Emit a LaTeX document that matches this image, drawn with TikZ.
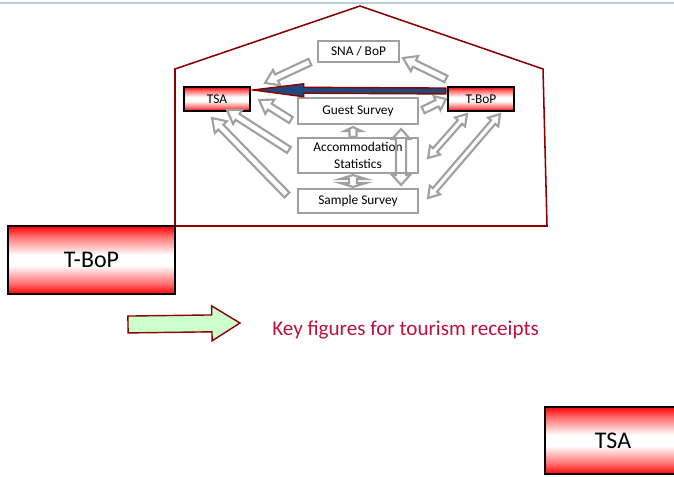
\documentclass[tikz,border=0pt]{standalone}
\usepackage{fontspec}
\setmainfont{Carlito}
\usetikzlibrary{calc}
\definecolor{housered}{RGB}{139,0,0}
\definecolor{boxgray}{RGB}{160,160,160}
\definecolor{arrowblue}{RGB}{31,73,125}
\definecolor{keygreen}{RGB}{204,255,204}
\definecolor{keyred}{RGB}{192,16,64}
\definecolor{lineblue}{RGB}{184,204,228}
\pgfdeclareverticalshading{redband}{100bp}{color(0bp)=(red); color(25bp)=(red); color(33bp)=(red!55); color(46bp)=(white); color(54bp)=(white); color(67bp)=(red!55); color(75bp)=(red); color(100bp)=(red)}
\begin{document}
\begin{tikzpicture}
  [x=0.025cm,y=-0.025cm,
   Box/.style={draw=boxgray,line width=1.5pt,fill=white,inner sep=0pt,align=center,
     font=\fontsize{9.5}{11.9}\selectfont},
   Red/.style={draw=black,line width=1.5pt,shading=redband,inner sep=0pt},
   Hollow/.style={draw=boxgray,line width=1.5pt,fill=white},
   Single/.style n args={3}{to path={
     let \p1=(\tikztostart), \p2=(\tikztotarget), \n1={atan2(\y2-\y1,\x2-\x1)} in
     ($(\p1)+(\n1+90:#1)$) -- ($(\p2)+(\n1+180:#3)+(\n1+90:#1)$)
     -- ($(\p2)+(\n1+180:#3)+(\n1+90:#2)$) -- (\p2)
     -- ($(\p2)+(\n1+180:#3)+(\n1-90:#2)$) -- ($(\p2)+(\n1+180:#3)+(\n1-90:#1)$)
     -- ($(\p1)+(\n1-90:#1)$) -- cycle}},
   Double/.style n args={3}{to path={
     let \p1=(\tikztostart), \p2=(\tikztotarget), \n1={atan2(\y2-\y1,\x2-\x1)} in
     (\p1) -- ($(\p1)+(\n1:#3)+(\n1+90:#2)$) -- ($(\p1)+(\n1:#3)+(\n1+90:#1)$)
     -- ($(\p2)+(\n1+180:#3)+(\n1+90:#1)$) -- ($(\p2)+(\n1+180:#3)+(\n1+90:#2)$)
     -- (\p2) -- ($(\p2)+(\n1+180:#3)+(\n1-90:#2)$) -- ($(\p2)+(\n1+180:#3)+(\n1-90:#1)$)
     -- ($(\p1)+(\n1:#3)+(\n1-90:#1)$) -- ($(\p1)+(\n1:#3)+(\n1-90:#2)$) -- cycle}}]
  \useasboundingbox (0,0) rectangle (674,477);
  \clip (0,0) rectangle (674,477);
  \draw[lineblue,line width=1.8pt] (0,3) -- (674,3);
  \draw[housered,line width=1.1pt] (175,226) -- (175,69) -- (360,6) -- (543,69) -- (547,226) -- cycle;
  \node[Box,minimum width=2.025cm,minimum height=0.525cm] (sna) at (358.5,51.5) {SNA / BoP};
  \node[Box,minimum width=3cm,minimum height=0.65cm] (gs) at (358,111) {Guest Survey};
  \node[Box,minimum width=3cm,minimum height=0.875cm] (acc) at (358,155.5) {Accommodation\\Statistics};
  \node[Box,minimum width=3cm,minimum height=0.6cm] (ss) at (358,201) {Sample Survey};
  \node[Red,minimum width=1.65cm,minimum height=0.6cm,font=\fontsize{9.5}{11.9}\selectfont] (tsas) at (217,99) {TSA};
  \node[Red,minimum width=1.65cm,minimum height=0.6cm,font=\fontsize{9.5}{11.9}\selectfont] (tbops) at (481,99) {T-BoP};
  \node[Red,minimum width=4.175cm,minimum height=1.7cm,font=\fontsize{17}{20}\selectfont] (tbop) at (91.5,260) {T-BoP};
  \node[Red,minimum width=3.4cm,minimum height=1.675cm,font=\fontsize{17}{20}\selectfont] (tsa) at (613,440.5) {TSA};
  \draw[Hollow,Single={2.5pt}{6pt}{9pt}] ($(sna.south west)+(-7,-1)$) to ($(tsas.north east)+(14,-3)$);
  \draw[Hollow,Single={2.5pt}{6pt}{9pt}] ($(tbops.north west)+(-1,-7)$) to ($(sna.south east)+(3,-5)$);
  \draw[Hollow,Single={2.5pt}{6pt}{9pt}] ($(gs.west)+(-6,9)$) to ($(tsas.east)+(8,1)$);
  \draw[Hollow,Single={2.5pt}{5.5pt}{7pt}] ($(gs.east)+(4,-1)$) to ($(tbops.west)+(-1,0)$);
  \draw[Hollow,Single={2.5pt}{6pt}{9pt}] ($(acc.west)+(-8,-5.5)$) to ($(tsas.south)+(10,-2)$);
  \draw[Hollow,Single={2.5pt}{6pt}{9pt}] ($(ss.west)+(-10,-6)$) to ($(tsas.south)+(-5,6)$);
  \draw[Hollow,Double={2pt}{4.8pt}{7.5pt}] ($(tbops.south)+(-14,2)$) to ($(acc.east)+(9,2.5)$);
  \draw[Hollow,Double={2pt}{4.8pt}{7.5pt}] ($(tbops.south)+(19,2)$) to ($(ss.east)+(9,-3)$);
  \draw[Hollow,Single={2.5pt}{6pt}{2.8pt}] ($(acc.north)+(-5,0)$) to ($(gs.south)+(-5,2)$);
  \draw[Hollow,Double={2.8pt}{9.2pt}{2.8pt}] ($(acc.south)+(-5,1)$) to ($(ss.north)+(-5,-1)$);
  \draw[Hollow,fill=none,Double={3.6pt}{6.4pt}{7.1pt}] ($(gs.south east)+(-18,4)$) to ($(ss.north east)+(-18,-3)$);
  \draw[draw=housered,fill=arrowblue,line width=1pt,Single={2.1pt}{4.6pt}{36pt}] ($(tbops.west)+(-1,-8)$) to ($(tsas.east)+(2,-9)$);
  \node[anchor=base west,inner sep=0pt,text=keyred,font=\fontsize{15}{18}\selectfont] (key) at (272,335) {Key figures for tourism receipts};
  \coordinate (keytail) at (128,324.5);
  \coordinate (keytip) at (240,323);
  \draw[draw=housered,fill=keygreen,line width=1pt,Single={6pt}{12.4pt}{20pt}] (keytail) to (keytip);
\end{tikzpicture}
\end{document}
